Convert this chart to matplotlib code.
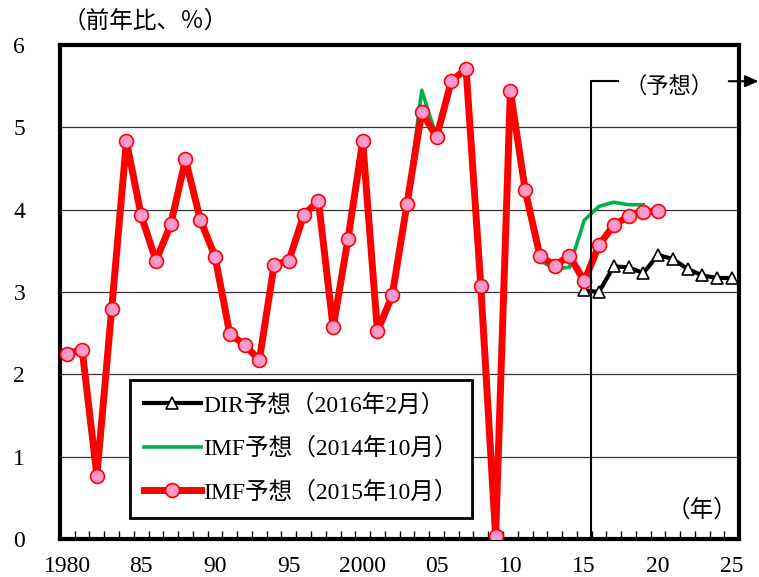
import matplotlib
matplotlib.use("Agg")
import matplotlib.pyplot as plt
import numpy as np

SERIF = ["Liberation Serif", "Noto Sans CJK JP", "DejaVu Sans"]
GOTHIC = ["Noto Sans CJK JP", "DejaVu Sans"]
plt.rcParams["font.family"] = SERIF

# 実績+IMF予想(2015年10月), 1980-2020
imf15_years = list(range(1980, 2021))
imf15 = [2.25, 2.30, 0.77, 2.79, 4.83, 3.93, 3.38, 3.82, 4.61, 3.88,
         3.43, 2.49, 2.36, 2.17, 3.33, 3.38, 3.93, 4.11, 2.57, 3.64,
         4.83, 2.52, 2.96, 4.07, 5.19, 4.88, 5.56, 5.71, 3.07, 0.03,
         5.44, 4.24, 3.44, 3.32, 3.44, 3.13, 3.57, 3.81, 3.92, 3.97,
         3.98]

# IMF予想(2014年10月): 2004年と2012年以降が異なる
imf14_years = list(range(1980, 2020))
imf14 = imf15[:24] + [5.45] + imf15[25:32] + [3.38, 3.28, 3.30, 3.87, 4.04, 4.09, 4.06, 4.06]

# DIR予想(2016年2月)
dir_years = list(range(2015, 2026))
dir_fc = [3.02, 3.00, 3.31, 3.30, 3.23, 3.45, 3.40, 3.28, 3.20, 3.17, 3.17]

tick_years = [1980, 1985, 1990, 1995, 2000, 2005, 2010, 2015, 2020, 2025]
tick_labels = ["1980", "85", "90", "95", "2000", "05", "10", "15", "20", "25"]

fig = plt.figure(figsize=(7.59, 5.77), dpi=100)
ax = fig.add_axes([0.079, 0.066, 0.895, 0.856])

ax.plot(dir_years, dir_fc, color="black", lw=3, marker="^", ms=9,
        mfc="white", mec="black", mew=1.2, zorder=3,
        label="DIR予想（2016年2月）")
ax.plot(imf14_years, imf14, color="#00B050", lw=2.6, zorder=4,
        label="IMF予想（2014年10月）")
ax.plot(imf15_years, imf15, color="#FF0000", lw=5, marker="o", ms=10,
        mfc="#FF99CC", mec="#FF0000", mew=1.2, zorder=5,
        label="IMF予想（2015年10月）")

ax.set_xlim(1979.5, 2025.5)
ax.set_ylim(0, 6)
ax.set_yticks(range(0, 7))
ax.tick_params(axis="y", length=0, pad=25, labelsize=17)
ax.set_xticks(tick_years)
ax.set_xticklabels(tick_labels)
ax.tick_params(axis="x", which="major", length=0, pad=12, labelsize=17)
ax.set_xticks(np.arange(1980.5, 2025.5, 1.0), minor=True)
ax.tick_params(axis="x", which="minor", direction="in", length=6, width=1)
ax.grid(axis="y", color="black", lw=0.9, alpha=0.8)
ax.set_axisbelow(True)
for s in ax.spines.values():
    s.set_linewidth(3)

# 予想期間の区切り
xf = 2015.45
ax.plot([xf, xf, 2017.3], [0, 5.56, 5.56], color="black", lw=1.5,
        zorder=6, clip_on=False)
ax.text(2020.75, 5.5, "（予想）", ha="center", va="center", fontsize=16,
        family=GOTHIC)
ax.annotate("", xy=(2027.0, 5.56), xytext=(2024.6, 5.56),
            xycoords="data", annotation_clip=False,
            arrowprops=dict(arrowstyle="-|>,head_length=0.8,head_width=0.35",
                            color="black", lw=1.5))

ax.text(2023.0, 0.35, "（年）", ha="center", va="center", fontsize=17)
fig.text(0.083, 0.962, "（前年比、％）", ha="left", va="center", fontsize=17)

leg = ax.legend(loc="lower left", bbox_to_anchor=(0.103, 0.0425),
                borderaxespad=0, fontsize=17, fancybox=False,
                edgecolor="black", framealpha=1, handlelength=2.4,
                handletextpad=0.1, labelspacing=0.9, borderpad=0.6,
                markerscale=1.0)
leg.get_frame().set_linewidth(2)
leg.set_zorder(7)

fig.savefig("out.png", dpi=100)
